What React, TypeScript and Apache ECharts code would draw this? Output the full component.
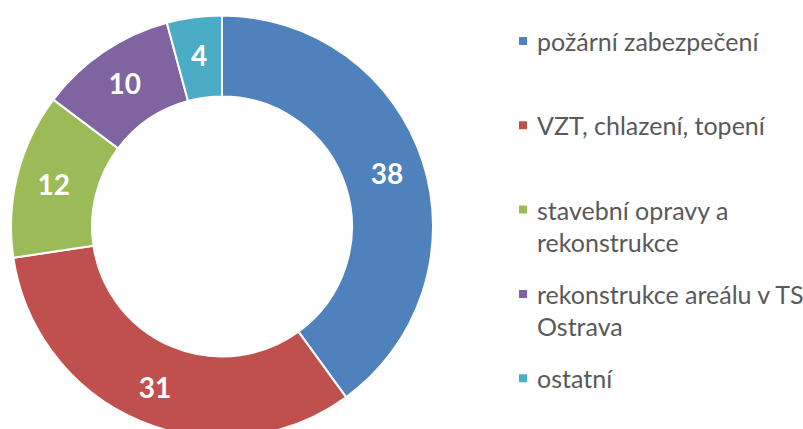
import React, { useEffect, useRef } from "react";
import * as echarts from "echarts";

const categories = [
  "požární zabezpečení",
  "VZT, chlazení, topení",
  "stavební opravy a rekonstrukce",
  "rekonstrukce areálu v TS Ostrava",
  "ostatní",
];
const values = [38, 31, 12, 10, 4];
const colors = ["#4F81BD", "#C0504D", "#9BBB59", "#8064A2", "#4BACC6"];
const legendLines = [
  ["požární zabezpečení"],
  ["VZT, chlazení, topení"],
  ["stavební opravy a", "rekonstrukce"],
  ["rekonstrukce areálu v TS", "Ostrava"],
  ["ostatní"],
];

const FONT = "Lato, 'Open Sans', sans-serif";
const LINE_H = 32;
const LEGEND_LEFT = 517;
const LEGEND_FIRST_ICON_Y = 41;
const LEGEND_STEP = 84.3;

export default function App() {
  const ref = useRef<HTMLDivElement>(null);

  useEffect(() => {
    if (!ref.current) return;
    const chart = echarts.init(ref.current, undefined, { renderer: "svg" });

    const legends = categories.map((name, i) => {
      const lines = legendLines[i];
      const multi = lines.length > 1;
      const text = multi ? "\n" + lines.join("\n") : lines[0];
      const blockH = multi ? LINE_H * 3 : LINE_H;
      const iconY = LEGEND_FIRST_ICON_Y + LEGEND_STEP * i;
      return {
        show: true,
        data: [name],
        orient: "vertical",
        left: LEGEND_LEFT,
        top: iconY - blockH / 2,
        padding: 0,
        itemWidth: 10,
        itemHeight: 10,
        icon: "rect",
        selectedMode: false,
        formatter: () => text,
        textStyle: {
          fontFamily: FONT,
          fontSize: 25,
          color: "#595959",
          lineHeight: LINE_H,
          padding: [0, 0, 0, 4],
        },
      };
    });

    chart.setOption({
      animation: false,
      color: colors,
      legend: legends,
      series: [
        {
          type: "pie",
          center: [222, 226.5],
          radius: [130, 211],
          startAngle: 90,
          clockwise: true,
          avoidLabelOverlap: false,
          itemStyle: { borderColor: "#ffffff", borderWidth: 2 },
          label: {
            show: true,
            position: "inside",
            formatter: "{c}",
            color: "#ffffff",
            fontFamily: FONT,
            fontWeight: "bold",
            fontSize: 28,
          },
          labelLine: { show: false },
          emphasis: { disabled: true },
          data: categories.map((name, i) => ({ name, value: values[i] })),
        },
      ],
    });

    return () => chart.dispose();
  }, []);

  return (
    <div
      ref={ref}
      style={{ position: "absolute", left: 0, top: 0, width: 803, height: 429, background: "#ffffff" }}
    />
  );
}
